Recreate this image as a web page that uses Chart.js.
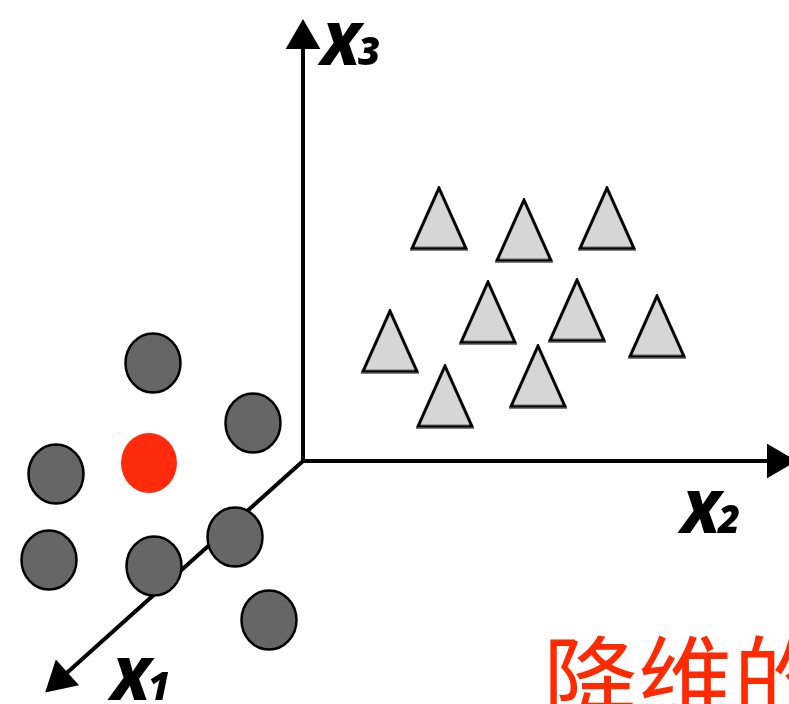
<!DOCTYPE html>
<html>
<head>
<meta charset="utf-8">
<script src="https://cdn.jsdelivr.net/npm/chart.js@4"></script>
<style>
  html, body { margin: 0; padding: 0; background: #fff; }
  #wrap { width: 789px; height: 704px; position: relative; }
</style>
</head>
<body>
<div id="wrap"><canvas id="reduceChart"></canvas></div>
<script>
// axes: origin and arrow ends (arrow centre points)
const axisOrigin = { x: 303, y: 461 };
const axisEndX = [303, 777, 60];
const axisEndY = [39, 461, 679];
const axisArrowRotation = [0, 90, 228];

// dark gray samples
const circleX = [153, 253, 56, 49, 154, 235, 269];
const circleY = [363, 423, 474, 560, 566, 537, 620];
// the red sample
const redX = [149];
const redY = [463];

// light gray triangles
const triX = [439, 524, 607, 488, 577, 657, 390, 445, 538];
const triY = [218, 230, 218, 312, 310, 326, 341, 396, 376];

// axis labels
const axisNames = ["X", "X", "X"];
const axisSubs = ["3", "2", "1"];
const axisLabelX = [321, 681, 111];
const axisLabelY = [65, 533, 700];

const captionText = "降维的";
const captionX = 543;
const captionY = 716;

function makeEllipse(w, h, fill) {
  const c = document.createElement("canvas");
  c.width = w; c.height = h;
  const g = c.getContext("2d");
  g.beginPath();
  g.ellipse(w / 2, h / 2, w / 2 - 1.5, h / 2 - 1.5, 0, 0, Math.PI * 2);
  g.fillStyle = fill;
  g.fill();
  g.lineWidth = 2.5;
  g.strokeStyle = "#000";
  g.stroke();
  return c;
}

function makeRedDot(w, h) {
  const c = document.createElement("canvas");
  c.width = w; c.height = h;
  const g = c.getContext("2d");
  g.beginPath();
  g.ellipse(w / 2, h / 2, w / 2 - 1, h / 2 - 1, 0, 0, Math.PI * 2);
  g.fillStyle = "#ff2b0c";
  g.fill();
  return c;
}

function makeTriangle(w, h) {
  const c = document.createElement("canvas");
  c.width = w; c.height = h;
  const g = c.getContext("2d");
  g.beginPath();
  g.moveTo(w / 2, 2.5);
  g.lineTo(w - 2, h - 2);
  g.lineTo(2, h - 2);
  g.closePath();
  g.fillStyle = "#d6d6d6";
  g.fill();
  g.lineWidth = 3;
  g.lineJoin = "miter";
  g.strokeStyle = "#000";
  g.stroke();
  return c;
}

const grayDot = makeEllipse(58, 62, "#666666");
const redDot = makeRedDot(58, 62);
const triMark = makeTriangle(58, 65);

function pts(xs, ys) {
  return xs.map((x, i) => ({ x: x, y: ys[i] }));
}

const axisSets = axisEndX.map((x, i) => ({
  type: "line",
  data: [axisOrigin, { x: x, y: axisEndY[i] }],
  borderColor: "#000",
  borderWidth: 4,
  borderCapStyle: "butt",
  pointRadius: [0, 20],
  pointStyle: "triangle",
  rotation: [0, axisArrowRotation[i]],
  pointBackgroundColor: "#000",
  pointBorderColor: "#000",
  pointBorderWidth: 0,
  order: 3,
  clip: false
}));

// axis labels and caption, placed through the scales
const labelPlugin = {
  id: "labels",
  afterDatasetsDraw(chart) {
    const ctx = chart.ctx;
    const xs = chart.scales.x, ys = chart.scales.y;
    ctx.save();
    ctx.textBaseline = "alphabetic";
    ctx.textAlign = "left";
    ctx.fillStyle = "#000";
    axisNames.forEach((name, i) => {
      const px = xs.getPixelForValue(axisLabelX[i]);
      const py = ys.getPixelForValue(axisLabelY[i]);
      ctx.font = 'italic 800 59px "Open Sans"';
      ctx.fillText(name, px, py);
      const w = ctx.measureText(name).width;
      ctx.font = 'italic 800 38px "Open Sans"';
      ctx.fillText(axisSubs[i], px + w - 2, py);
    });
    ctx.fillStyle = "#ff2a00";
    ctx.font = '400 95px "Noto Sans CJK SC"';
    ctx.fillText(captionText, xs.getPixelForValue(captionX), ys.getPixelForValue(captionY));
    ctx.restore();
  }
};

const chart = new Chart(document.getElementById("reduceChart"), {
  type: "scatter",
  data: {
    datasets: [
      {
        label: "red",
        data: pts(redX, redY),
        pointStyle: redDot,
        order: 0
      },
      {
        label: "circles",
        data: pts(circleX, circleY),
        pointStyle: grayDot,
        order: 1
      },
      {
        label: "triangles",
        data: pts(triX, triY),
        pointStyle: triMark,
        order: 2
      },
      ...axisSets
    ]
  },
  options: {
    responsive: true,
    maintainAspectRatio: false,
    animation: false,
    layout: { padding: 0, autoPadding: false },
    scales: {
      x: { type: "linear", min: 0, max: 789, display: false },
      y: { type: "linear", min: 0, max: 704, reverse: true, display: false }
    },
    plugins: {
      legend: { display: false },
      tooltip: { enabled: false }
    }
  },
  plugins: [labelPlugin]
});
</script>
</body>
</html>
